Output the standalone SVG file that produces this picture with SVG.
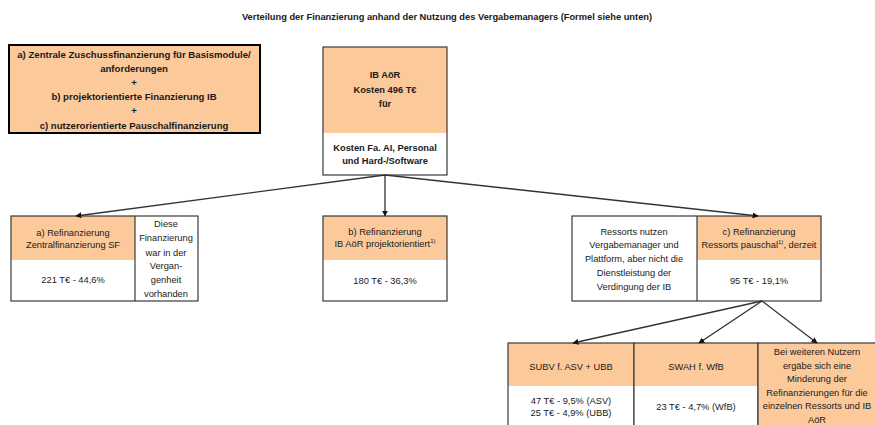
<svg xmlns="http://www.w3.org/2000/svg" width="875" height="425" viewBox="0 0 875 425">
<defs>
<style>
text{font-family:"Liberation Sans",Arial,sans-serif;font-size:9.3px;fill:#1a1a1a;text-anchor:middle}
.b{font-weight:bold}
.l{font-size:9.6px}
.o{fill:#fcc99b;stroke:none}
.w{fill:#fff;stroke:none}
.frame{fill:none;stroke:#3a3a3a;stroke-width:1.2}
.div{stroke:#3a3a3a;stroke-width:1.2}
.c{stroke:#333;stroke-width:1.3;fill:none;marker-end:url(#ah)}
.sup{font-size:6px}
</style>
<marker id="ah" viewBox="0 0 10 10" refX="9" refY="5" markerWidth="6" markerHeight="6" markerUnits="userSpaceOnUse" orient="auto">
<path d="M0,0 L10,5 L0,10 z" fill="#111"/>
</marker>
</defs>
<rect width="875" height="425" fill="#fff"/>
<text class="b" x="447" y="20">Verteilung der Finanzierung anhand der Nutzung des Vergabemanagers (Formel siehe unten)</text>

<g id="legend">
<rect x="9" y="45" width="251" height="88" fill="#fcc99b" stroke="#000" stroke-width="2"/>
<text class="b l" x="134" y="58">a) Zentrale Zuschussfinanzierung für Basismodule/</text>
<text class="b l" x="134" y="72">anforderungen</text>
<text class="b l" x="134" y="86">+</text>
<text class="b l" x="134" y="100">b) projektorientierte Finanzierung IB</text>
<text class="b l" x="134" y="114">+</text>
<text class="b l" x="134" y="129">c) nutzerorientierte Pauschalfinanzierung</text>
</g>

<g id="ib">
<rect class="o" x="323" y="47" width="124" height="86"/>
<rect class="w" x="323" y="133" width="124" height="42"/>
<rect class="frame" x="323" y="47" width="124" height="128"/>
<text class="b" x="385" y="78">IB AöR</text>
<text class="b" x="385" y="93">Kosten 496 T€</text>
<text class="b" x="385" y="107">für</text>
<text class="b" x="385" y="151">Kosten Fa. AI, Personal</text>
<text class="b" x="385" y="164">und Hard-/Software</text>
</g>

<g id="a">
<rect class="o" x="11" y="216" width="124" height="44"/>
<rect class="w" x="11" y="260" width="124" height="41"/>
<rect class="w" x="135" y="216" width="63" height="85"/>
<rect class="frame" x="11" y="216" width="187" height="85"/>
<line class="div" x1="135" y1="216" x2="135" y2="301"/>
<text x="73" y="236">a) Refinanzierung</text>
<text x="73" y="248">Zentralfinanzierung SF</text>
<text x="73" y="283">221 T€ - 44,6%</text>
<text x="166" y="227">Diese</text>
<text x="166" y="241">Finanzierung</text>
<text x="166" y="256">war in der</text>
<text x="166" y="269">Vergan-</text>
<text x="166" y="283">genheit</text>
<text x="166" y="297">vorhanden</text>
</g>

<g id="b">
<rect class="o" x="323" y="216" width="124" height="44"/>
<rect class="w" x="323" y="260" width="124" height="41"/>
<rect class="frame" x="323" y="216" width="124" height="85"/>
<text x="385" y="235">b) Refinanzierung</text>
<text x="385" y="247">IB AöR projektorientiert<tspan class="sup" dy="-4">1)</tspan></text>
<text x="385" y="284">180 T€ - 36,3%</text>
</g>

<g id="c">
<rect class="w" x="572" y="216" width="125" height="85"/>
<rect class="o" x="697" y="216" width="124" height="44"/>
<rect class="w" x="697" y="260" width="124" height="41"/>
<rect class="frame" x="572" y="216" width="249" height="85"/>
<line class="div" x1="697" y1="216" x2="697" y2="301"/>
<text x="634" y="235">Ressorts nutzen</text>
<text x="634" y="248">Vergabemanager und</text>
<text x="634" y="262">Plattform, aber nicht die</text>
<text x="634" y="276">Dienstleistung der</text>
<text x="634" y="290">Verdingung der IB</text>
<text x="759" y="235">c) Refinanzierung</text>
<text x="759" y="248">Ressorts pauschal<tspan class="sup" dy="-4">1)</tspan><tspan dy="4">, derzeit</tspan></text>
<text x="759" y="284">95 T€ - 19,1%</text>
</g>

<g id="subv">
<rect class="o" x="508" y="343" width="126" height="43"/>
<rect class="w" x="508" y="386" width="126" height="42"/>
<rect class="frame" x="508" y="343" width="126" height="90"/>
<text x="571" y="370">SUBV f. ASV + UBB</text>
<text x="571" y="404">47 T€ - 9,5% (ASV)</text>
<text x="571" y="416">25 T€ - 4,9% (UBB)</text>
</g>

<g id="swah">
<rect class="o" x="634" y="343" width="124" height="43"/>
<rect class="w" x="634" y="386" width="124" height="42"/>
<rect class="frame" x="634" y="343" width="124" height="90"/>
<text x="696" y="370">SWAH f. WfB</text>
<text x="696" y="410">23 T€ - 4,7% (WfB)</text>
</g>

<g id="weitere">
<rect class="o" x="758" y="343" width="120" height="90"/>
<rect class="frame" x="758" y="343" width="120" height="90"/>
<text x="817" y="355">Bei weiteren Nutzern</text>
<text x="817" y="369">ergäbe sich eine</text>
<text x="817" y="382">Minderung der</text>
<text x="817" y="396">Refinanzierungen für die</text>
<text x="817" y="409">einzelnen Ressorts und IB</text>
<text x="817" y="423">AöR</text>
</g>

<g id="connectors">
<line class="c" x1="385" y1="175" x2="76" y2="216"/>
<line class="c" x1="385" y1="175" x2="385" y2="216"/>
<line class="c" x1="385" y1="175" x2="758" y2="216"/>
<line class="c" x1="762" y1="301" x2="573" y2="343"/>
<line class="c" x1="762" y1="301" x2="699" y2="343"/>
<line class="c" x1="762" y1="301" x2="817" y2="343"/>
</g>
</svg>
